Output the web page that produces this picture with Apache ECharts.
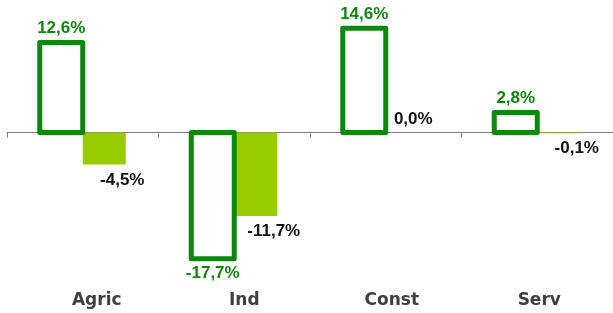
<!DOCTYPE html>
<html>
<head>
<meta charset="utf-8">
<script src="https://cdn.jsdelivr.net/npm/echarts@6/dist/echarts.min.js"></script>
<style>
html,body{margin:0;padding:0;background:#fff;}
#chart{width:613px;height:313px;}
</style>
</head>
<body>
<div id="chart"></div>
<script>
const categories = ['Agric', 'Ind', 'Const', 'Serv'];
const seriesOutline = [12.6, -17.7, 14.6, 2.8];
const seriesFilled = [-4.5, -11.7, 0.0, -0.1];

const DARK = '#0e870e';
const LIGHT = '#99cc00';
const BAR_W = 43;
const fmt = v => v.toFixed(1).replace('.', ',') + '%';

const chart = echarts.init(document.getElementById('chart'), null, {renderer: 'canvas'});

const valFont = {fontFamily: '"Liberation Sans", Arial, sans-serif', fontWeight: 'bold', fontSize: 17};

const outlineData = seriesOutline.map(v => ({
  value: v,
  label: {position: v >= 0 ? 'top' : 'bottom'}
}));
const filledData = seriesFilled.map(v => ({
  value: v,
  label: {position: v >= 0 ? 'top' : 'bottom', offset: v >= 0 ? [6, 0] : [18, 2]}
}));
const outlineStrokeData = seriesOutline.map((v, i) => [i, v]);

chart.setOption({
  animation: false,
  grid: [
    {left: 7, width: 608, top: 25.5, height: 249.6},
    {left: 23, width: 608, top: 25.5, height: 249.6}
  ],
  xAxis: [
    {
      type: 'category', gridIndex: 0, data: categories,
      axisLine: {onZero: true, lineStyle: {color: '#7f7f7f', width: 1}},
      axisTick: {show: true, length: 5, lineStyle: {color: '#7f7f7f'}},
      axisLabel: {show: false}
    },
    {
      type: 'category', gridIndex: 1, data: categories, position: 'bottom',
      axisLine: {show: false, onZero: false},
      axisTick: {show: false},
      axisLabel: {show: true, margin: 17, color: '#404040', fontFamily: '"DejaVu Sans", sans-serif', fontWeight: 'bold', fontSize: 17}
    }
  ],
  yAxis: [
    {type: 'value', gridIndex: 0, min: -20, max: 15, show: false, splitLine: {show: false}},
    {type: 'value', gridIndex: 1, min: -20, max: 15, show: false, splitLine: {show: false}}
  ],
  series: [
    {
      type: 'bar', xAxisIndex: 0, yAxisIndex: 0, z: 3,
      data: outlineData, barWidth: BAR_W, barGap: '0%',
      itemStyle: {color: '#ffffff'},
      label: Object.assign({show: true, color: DARK, distance: 6, formatter: p => fmt(p.value)}, valFont)
    },
    {
      type: 'bar', xAxisIndex: 0, yAxisIndex: 0, z: 2,
      data: filledData, barWidth: BAR_W, barGap: '0%',
      itemStyle: {color: LIGHT},
      label: Object.assign({show: true, color: '#111111', formatter: p => fmt(p.value)}, valFont)
    },
    {
      type: 'custom', xAxisIndex: 0, yAxisIndex: 0, z: 4,
      data: outlineStrokeData,
      encode: {x: 0, y: 1},
      silent: true,
      renderItem: function (params, api) {
        const idx = api.value(0);
        const v = api.value(1);
        const base = api.coord([idx, 0]);
        const top = api.coord([idx, v]);
        const cx = base[0];
        const y1 = Math.min(base[1], top[1]);
        const h = Math.abs(base[1] - top[1]);
        return {
          type: 'rect',
          shape: {x: cx - BAR_W, y: y1, width: BAR_W, height: h},
          style: {fill: 'none', stroke: DARK, lineWidth: 5, lineJoin: 'round'}
        };
      }
    }
  ]
});
</script>
</body>
</html>
